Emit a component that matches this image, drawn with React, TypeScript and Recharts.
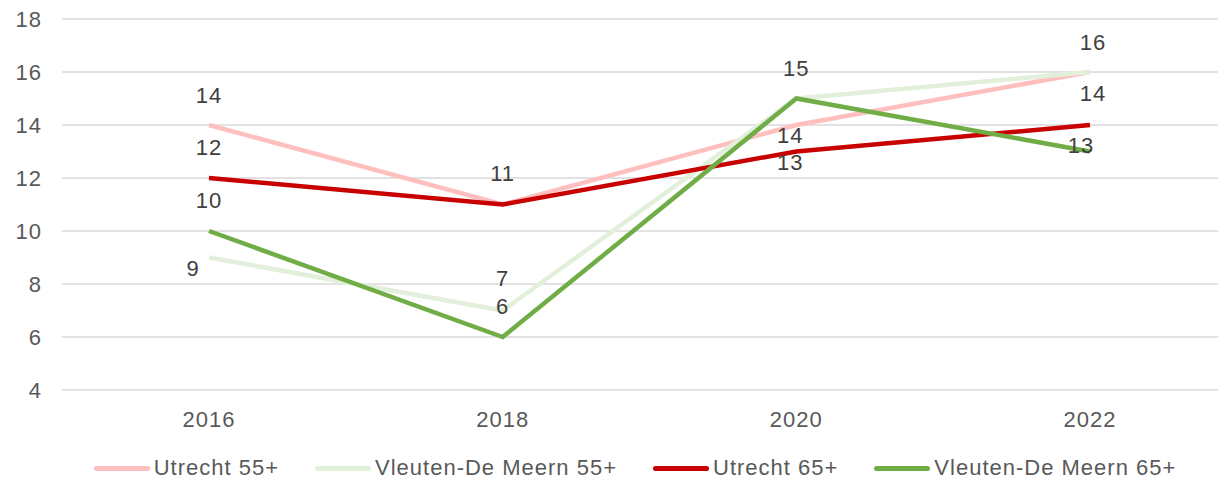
import React from "react";
import { LineChart, Line, XAxis, YAxis, CartesianGrid, LabelList } from "recharts";

const years = ["2016", "2018", "2020", "2022"];
const utrecht55 = [14, 11, 14, 16];
const vleuten55 = [9, 7, 15, 16];
const utrecht65 = [12, 11, 13, 14];
const vleuten65 = [10, 6, 15, 13];
const yTicks = [4, 6, 8, 10, 12, 14, 16, 18];

const data = years.map((year, i) => ({
  year,
  u55: utrecht55[i],
  v55: vleuten55[i],
  u65: utrecht65[i],
  v65: vleuten65[i],
}));

const FONT = "'Liberation Sans', Arial, sans-serif";

// label offsets (dx, dy) from the point, per series, per year; null = hidden (overlaps another label)
const series = [
  { key: "u55", name: "Utrecht 55+", color: "#FFBFBF", offsets: [[0, -30], [0, -31], [-6, 10], [3, -30]] },
  { key: "v55", name: "Vleuten-De Meern 55+", color: "#E2EFDA", offsets: [[-16, 11], [0, -32], null, null] },
  { key: "u65", name: "Utrecht 65+", color: "#C80000", offsets: [[0, -31], null, [-6, 11], [3, -32]] },
  { key: "v65", name: "Vleuten-De Meern 65+", color: "#70AD47", offsets: [[0, -31], [0, -31], [0, -30], [-9, -6]] },
];

const makeLabel = (offsets: (number[] | null)[]) => (props: any) => {
  const { x, y, value, index } = props;
  const off = offsets[index];
  if (!off) return null;
  return (
    <text
      x={x + off[0]}
      y={y + off[1]}
      dy="0.36em"
      textAnchor="middle"
      fill="#404040"
      fontSize={22}
      letterSpacing={1}
      fontFamily={FONT}
    >
      {value}
    </text>
  );
};

const tickStyle = { fill: "#595959", fontSize: 22, fontFamily: FONT, letterSpacing: 1 };

const App = () => {
  return (
    <div style={{ position: "relative", width: 1218, height: 480, fontFamily: FONT }}>
      <style>{"body{margin:0}"}</style>
      <LineChart
        width={1218}
        height={440}
        data={data}
        margin={{ top: 19, right: 0, left: 0, bottom: 10 }}
      >
        <CartesianGrid vertical={false} stroke="#D9D9D9" strokeWidth={1.5} />
        <XAxis
          dataKey="year"
          axisLine={false}
          tickLine={false}
          tickSize={0}
          tickMargin={21}
          height={40}
          padding={{ left: 147, right: 128 }}
          tick={tickStyle}
        />
        <YAxis
          domain={[4, 18]}
          ticks={yTicks}
          width={62}
          axisLine={false}
          tickLine={false}
          tickSize={0}
          tickMargin={20}
          tick={tickStyle}
        />
        {series.map((s) => (
          <Line
            key={s.key}
            dataKey={s.key}
            name={s.name}
            stroke={s.color}
            strokeWidth={4.5}
            dot={false}
            activeDot={false}
            type="linear"
            isAnimationActive={false}
          >
            <LabelList dataKey={s.key} content={makeLabel(s.offsets)} />
          </Line>
        ))}
      </LineChart>
      <div
        style={{
          position: "absolute",
          top: 455,
          left: 0,
          width: 1218,
          paddingLeft: 52,
          boxSizing: "border-box",
          display: "flex",
          justifyContent: "center",
          alignItems: "center",
          gap: 36,
          fontSize: 22,
          letterSpacing: 1,
          color: "#595959",
        }}
      >
        {series.map((s) => (
          <div key={s.key} style={{ display: "flex", alignItems: "center", gap: 4 }}>
            <span
              style={{
                display: "inline-block",
                width: 56,
                height: 5,
                borderRadius: 3,
                background: s.color,
              }}
            />
            <span>{s.name}</span>
          </div>
        ))}
      </div>
    </div>
  );
};

export default App;
